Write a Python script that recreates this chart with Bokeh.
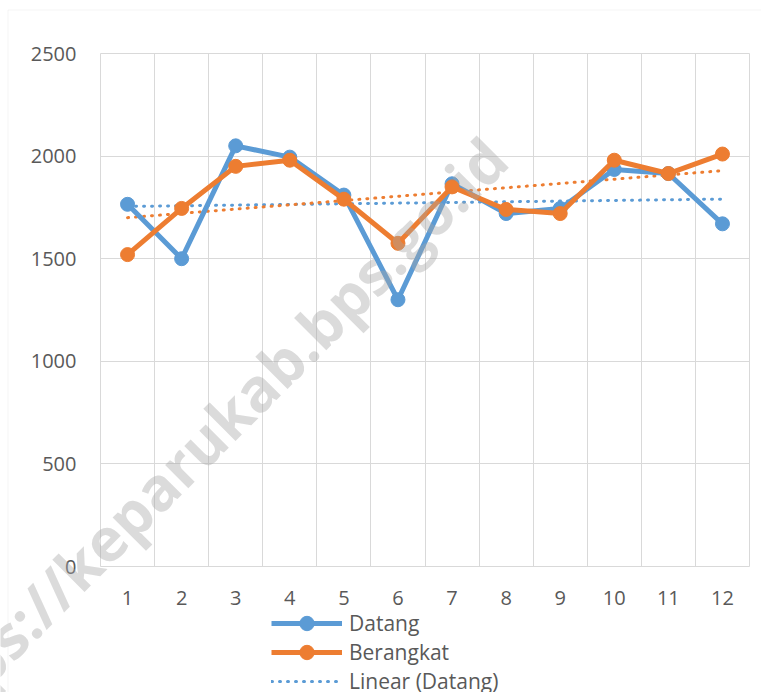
import numpy as np
from bokeh.plotting import figure
from bokeh.models import Range1d, FixedTicker, Legend, LegendItem, Label, PolyAnnotation
from bokeh.embed import file_html
from bokeh.resources import INLINE

# ---- data ----
months = ["1", "2", "3", "4", "5", "6", "7", "8", "9", "10", "11", "12"]
datang = [1765, 1500, 2050, 1995, 1810, 1300, 1865, 1720, 1745, 1935, 1915, 1670]
berangkat = [1520, 1745, 1950, 1980, 1790, 1575, 1850, 1740, 1720, 1980, 1915, 2010]
y_ticks = [0, 500, 1000, 1500, 2000, 2500]
series_names = ["Datang", "Berangkat", "Linear (Datang)"]
watermark = "https://keparukab.bps.go.id"

BLUE = "#5B9BD5"
ORANGE = "#ED7D31"
GRID = "#D9D9D9"
TEXT = "#595959"
FONT = "Open Sans"

# ---- layout (pixels) ----
W, H = 761, 692
PL, PR, PT, PB = 100, 749, 53, 566   # plot-area edges on the canvas
LEG_X = 271                          # legend left edge
LEG_ROWS = [622.5, 651.5, 680.5]     # legend row centres
LEG_GLYPH_H = 36

x = np.arange(1, len(months) + 1)
sd, id_ = np.polyfit(x, datang, 1)
sb, ib = np.polyfit(x, berangkat, 1)
trend_d = sd * x + id_
trend_b = sb * x + ib

# data ranges of the plot area, widened so that the frame spans the whole canvas
xa, xb = 0.5, len(months) + 0.5
ya, yb = y_ticks[0], y_ticks[-1]
kx = (xb - xa) / (PR - PL)
ky = (yb - ya) / (PB - PT)
x_range = Range1d(xa - PL * kx, xb + (W - PR) * kx)
y_range = Range1d(ya - (H - PB) * ky, yb + PT * ky)

p = figure(width=W, height=H, output_backend="svg", toolbar_location=None,
           x_range=x_range, y_range=y_range, min_border=0)
p.background_fill_color = "white"
p.border_fill_color = "white"
p.outline_line_color = None

# axes drawn at the plot-area edges
p.xaxis.fixed_location = ya
p.yaxis.fixed_location = xa
p.xaxis.ticker = FixedTicker(ticks=[int(v) for v in x])
p.xaxis.major_label_overrides = {int(v): m for v, m in zip(x, months)}
p.yaxis.ticker = FixedTicker(ticks=y_ticks)
for ax in (p.xaxis[0], p.yaxis[0]):
    ax.axis_line_color = None
    ax.major_tick_line_color = None
    ax.minor_tick_line_color = None
    ax.major_tick_out = 0
    ax.major_tick_in = 0
    ax.major_label_text_font = FONT
    ax.major_label_text_font_size = "20px"
    ax.major_label_text_color = TEXT
p.xaxis.major_label_standoff = 24
p.yaxis.major_label_standoff = 24

# grids at category boundaries, limited to the plot area
xgrid_ticks = [float(v) - 0.5 for v in x] + [float(x[-1]) + 0.5]
p.xgrid.ticker = FixedTicker(ticks=xgrid_ticks)
p.ygrid.ticker = FixedTicker(ticks=y_ticks)
if "cross_bounds" in p.xgrid[0].properties():
    p.xgrid.cross_bounds = (ya, yb)
    p.ygrid.cross_bounds = (xa, xb)
    p.xgrid.grid_line_color = GRID
    p.ygrid.grid_line_color = GRID
else:
    p.xgrid.grid_line_color = None
    p.ygrid.grid_line_color = None
    p.segment(x0=xgrid_ticks, x1=xgrid_ticks, y0=[ya] * len(xgrid_ticks), y1=[yb] * len(xgrid_ticks),
              line_color=GRID, line_width=1)
    p.segment(x0=[xa] * len(y_ticks), x1=[xb] * len(y_ticks), y0=y_ticks, y1=y_ticks,
              line_color=GRID, line_width=1)

# trendlines
t1 = p.line(x, trend_d, line_color=BLUE, line_width=3, line_dash="1 7", line_cap="round")
t2 = p.line(x, trend_b, line_color=ORANGE, line_width=3, line_dash="1 7", line_cap="round")

# series
l1 = p.line(x, datang, line_color=BLUE, line_width=5, line_join="round")
s1 = p.scatter(x, datang, size=14, fill_color=BLUE, line_color=BLUE)
l2 = p.line(x, berangkat, line_color=ORANGE, line_width=5, line_join="round")
s2 = p.scatter(x, berangkat, size=14, fill_color=ORANGE, line_color=ORANGE)

# legend: one single-entry legend per row so the rows can sit close together
entries = [(series_names[0], [l1, s1]), (series_names[1], [l2, s2]), (series_names[2], [t1])]
for (label, rends), row in zip(entries, LEG_ROWS):
    leg = Legend(items=[LegendItem(label=label, renderers=rends)],
                 location=(LEG_X, H - (row + LEG_GLYPH_H / 2)), orientation="vertical",
                 glyph_width=71, glyph_height=LEG_GLYPH_H, label_standoff=7, spacing=0,
                 padding=0, margin=0, border_line_color=None, background_fill_alpha=0,
                 label_text_font=FONT, label_text_font_size="21px", label_text_color=TEXT)
    p.add_layout(leg, "center")

# watermark
wm = Label(x=200, y=H - 443, x_units="screen", y_units="screen", text=watermark,
           angle=45, angle_units="deg", text_align="center", text_baseline="middle",
           text_font=FONT, text_font_style="bold", text_font_size="60px",
           text_color="#a6a6a6", text_alpha=0.4)
p.add_layout(wm)

# outer chart border (left & top)
border = PolyAnnotation(xs=[7.5, 7.5, 900, 900], ys=[-300, H - 9.5, H - 9.5, -300],
                        xs_units="screen", ys_units="screen",
                        fill_alpha=0, line_color=GRID, line_width=1)
p.add_layout(border)

open("out.html", "w").write(file_html(p, INLINE))
